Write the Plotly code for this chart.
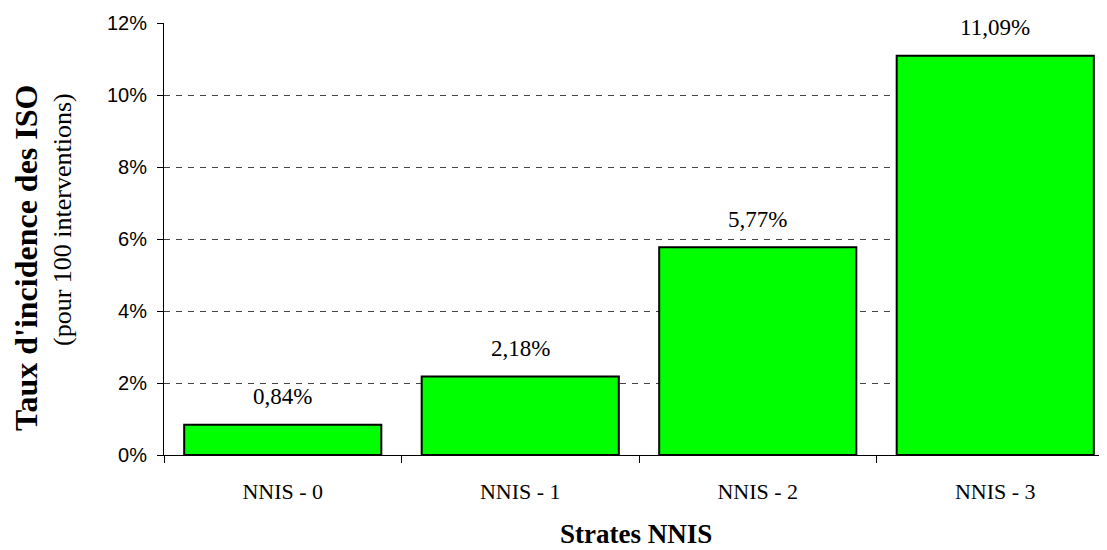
import plotly.graph_objects as go

categories = ["NNIS - 0", "NNIS - 1", "NNIS - 2", "NNIS - 3"]
values = [0.84, 2.18, 5.77, 11.09]
y_ticks = [0, 2, 4, 6, 8, 10, 12]
y_tick_labels = ["0%", "2%", "4%", "6%", "8%", "10%", "12%"]

OFF = 8  # page body margin
W, H = 1107 - OFF, 550 - OFF
L, R, T = 164 - OFF, 0, 23 - OFF
B = H - (455 - OFF)
pw, ph = W - L - R, H - T - B

def px_x(p):
    return (p - OFF - L) / pw

def px_y(p):
    return (H - B - (p - OFF)) / ph

fig = go.Figure()
fig.add_trace(go.Bar(
    x=categories, y=values, width=0.83,
    marker=dict(color="#00FF00", line=dict(color="#000000", width=2)),
    hoverinfo="skip",
))

annotations = []
for c, v in zip(categories, values):
    annotations.append(dict(
        x=c, y=v, xref="x", yref="y", yshift=28,
        text=f"{v:.2f}".replace(".", ",") + "%", showarrow=False,
        font=dict(family="Liberation Serif", size=23, color="#000000"),
        xanchor="center", yanchor="middle",
    ))

annotations.append(dict(
    x=px_x(26), y=px_y(258), xref="paper", yref="paper",
    text="<b>Taux d'incidence des ISO</b>", textangle=-90, showarrow=False,
    font=dict(family="Liberation Serif", size=32, color="#000000"),
    xanchor="center", yanchor="middle",
))
annotations.append(dict(
    x=px_x(62), y=px_y(220), xref="paper", yref="paper",
    text="(pour 100 interventions)", textangle=-90, showarrow=False,
    font=dict(family="Liberation Serif", size=26, color="#000000"),
    xanchor="center", yanchor="middle",
))
annotations.append(dict(
    x=px_x(636), y=px_y(534), xref="paper", yref="paper",
    text="<b>Strates NNIS</b>", showarrow=False,
    font=dict(family="Liberation Serif", size=27, color="#000000"),
    xanchor="center", yanchor="middle",
))

fig.update_layout(
    width=W, height=H,
    margin=dict(l=L, r=R, t=T, b=B, pad=0),
    paper_bgcolor="white", plot_bgcolor="white",
    showlegend=False,
    annotations=annotations,
)
fig.update_xaxes(
    type="category", range=[-0.5, -0.5 + pw / 237.5],
    showline=True, linecolor="#000000", linewidth=1,
    ticks="outside", tickson="boundaries", ticklen=7, tickcolor="#000000",
    showgrid=False, zeroline=False,
    tickfont=dict(family="Liberation Serif", size=22, color="#000000"),
    ticklabelstandoff=17,
)
fig.update_yaxes(
    range=[0, 12], tickmode="array", tickvals=y_ticks, ticktext=y_tick_labels,
    showline=True, linecolor="#000000", linewidth=1,
    ticks="outside", ticklen=6, tickcolor="#000000",
    showgrid=True, gridcolor="#444444", gridwidth=1, griddash="6px,6px",
    zeroline=False,
    tickfont=dict(family="Liberation Sans", size=20, color="#000000"),
    ticklabelstandoff=6,
)

fig.write_html("out.html")
